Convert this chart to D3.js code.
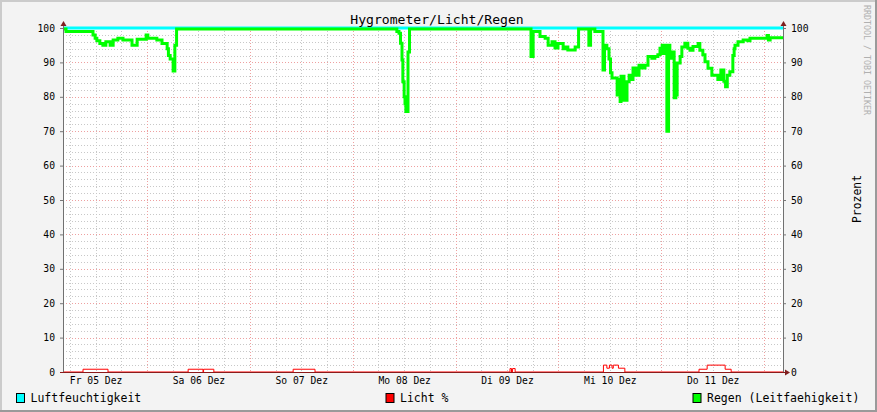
<!DOCTYPE html>
<html>
<head>
<meta charset="utf-8">
<script src="https://cdn.jsdelivr.net/npm/d3@7"></script>
<style>
  html, body { margin: 0; padding: 0; background: #f3f3f3; }
  svg { display: block; font-family: "DejaVu Sans Mono", monospace; }
</style>
</head>
<body>
<svg id="chart" width="877" height="412"></svg>
<script>
// chart window: one week, hours counted from the left edge
const startTime = new Date(2014, 11, 5, 4, 24);
const spanHours = 168;

const title = "Hygrometer/Licht/Regen";
const yLabel = "Prozent";
const watermark = "RRDTOOL / TOBI OETIKER";

const seriesNames = ["Luftfeuchtigkeit", "Licht %", "Regen (Leitfaehigkeit)"];
const seriesColors = ["#00ffff", "#ff0000", "#00ff00"];

const dayLabels = ["Fr 05 Dez", "Sa 06 Dez", "So 07 Dez", "Mo 08 Dez", "Di 09 Dez", "Mi 10 Dez", "Do 11 Dez"];
const dayNoons = [5, 6, 7, 8, 9, 10, 11];
const yTicks = [0, 10, 20, 30, 40, 50, 60, 70, 80, 90, 100];

// Luftfeuchtigkeit
const luftHours = [0, 168];
const luftValues = [100, 100];

// Licht %
const lichtHours = [0, 4.67, 10.5, 29.2, 32.67, 32.8, 35.2, 53.7, 58.8, 104.3, 104.65, 104.9, 105.5,
  126.1, 126.9, 127.5, 128.1, 128.4, 129.6, 131.1, 148.4, 150.3, 154.5, 155.9, 168];
const lichtValues = [0, 0.8, 0, 0.8, 0, 0.8, 0, 0.8, 0, 1.0, 0, 1.0, 0,
  2.0, 1.1, 2.0, 1.1, 2.0, 1.1, 0, 0.8, 2.0, 0.8, 0, 0];

// Regen (Leitfaehigkeit)
const regenHours = [0, 0.7, 7.0, 7.5, 7.9, 8.6, 9.3, 10.0, 11.0, 11.7, 12.8, 14.0, 16.1, 17.3, 19.4, 19.8,
  21.9, 23.1, 24.3, 24.6, 25.0, 25.7, 26.1, 26.5,
  77.9, 78.4, 78.75, 79.1, 79.3, 79.6, 79.8, 80.0, 80.5, 80.85,
  109.2, 109.7, 111.3, 112.5, 113.2, 114.1, 114.8, 115.5, 116.7, 117.4, 117.8, 119.5, 120.3, 122.7, 123.1, 124.1,
  126.0, 126.35, 126.9, 127.4, 127.75, 128.1, 129.3, 129.5, 130.0, 130.2, 130.9, 131.6, 132.1, 132.8, 133.0,
  133.7, 134.4, 135.1, 135.8, 136.5, 137.4, 138.1, 138.8, 139.3, 139.8, 140.0, 140.2, 140.9, 141.3, 141.6,
  142.1, 142.6, 143.0, 143.3, 144.0, 144.4, 145.1, 145.8, 146.3, 147.0, 148.2, 148.6, 149.3, 149.8, 150.5,
  151.4, 152.8, 153.5, 154.2, 154.6, 155.0, 155.6, 156.3, 156.6, 156.8, 157.5, 158.7, 159.8, 160.3, 164.3,
  164.6, 165.0, 168];
const regenValues = [99.7, 99, 98, 97, 96.3, 95.5, 95, 96, 95, 96.5, 97, 96.5, 95, 96.7, 98, 97,
  96.5, 95.5, 94, 92, 91, 87.5, 95, 99.7,
  99, 98.5, 95.6, 90.7, 84.4, 80, 78, 75.7, 93, 99.7,
  91.7, 99, 97.5, 97, 95, 96, 94.2, 95.5, 94, 94.5, 93.6, 94.5, 99.7, 95, 99.7, 99,
  87.8, 95, 94, 91, 87, 85.5, 80.5, 85, 78.6, 86, 79, 84.4, 86.3, 85, 88.4,
  86.3, 89.2, 88.4, 89.2, 91.7, 91.2, 91.7, 92.2, 94.1, 95, 92.6, 95, 70, 95, 91.2,
  93, 79.7, 80.5, 89.8, 91.7, 94.5, 95.6, 94.1, 93.5, 94.6, 95.5, 93.5, 92.2, 90.2, 88.3,
  86.3, 85, 87.8, 84.5, 82.9, 86.3, 87.3, 92, 94, 95, 96, 96.5, 96.3, 97, 97.8,
  96.5, 97.2, 97.2];

const W = 877, H = 412;
const plot = { left: 63, right: 783, top: 28, bottom: 372 };

const toDate = h => new Date(startTime.getTime() + h * 3600 * 1000);
const zip = (hs, vs) => hs.map((h, i) => ({ t: toDate(h), v: vs[i] }));

const x = d3.scaleTime()
  .domain([startTime, toDate(spanHours)])
  .range([plot.left, plot.right]);

const y = d3.scaleLinear()
  .domain([0, 100])
  .range([plot.bottom, plot.top]);

const svg = d3.select("#chart");

// background + frame
svg.append("rect").attr("width", W).attr("height", H).attr("fill", "#f3f3f3");
svg.append("path").attr("d", `M0,${H} V0 H${W}`).attr("stroke", "#cbcbcb").attr("stroke-width", 4).attr("fill", "none");
svg.append("path").attr("d", `M0,${H} H${W} V0`).attr("stroke", "#9a9a9a").attr("stroke-width", 4).attr("fill", "none");

svg.append("rect")
  .attr("x", plot.left).attr("y", plot.top)
  .attr("width", plot.right - plot.left).attr("height", plot.bottom - plot.top)
  .attr("fill", "#ffffff");

// grid
const grid = svg.append("g").attr("shape-rendering", "crispEdges");
const minorY = d3.range(0, 101, 2).filter(v => v % 10 !== 0);
const majorY = yTicks.filter(v => v > 0);
const sixHours = d3.timeHour.every(6).range(x.domain()[0], x.domain()[1]);
const minorX = sixHours.filter(d => d.getHours() !== 0);
const majorX = sixHours.filter(d => d.getHours() === 0);

grid.selectAll(".gy").data(minorY).join("line")
  .attr("x1", plot.left).attr("x2", plot.right)
  .attr("y1", d => Math.round(y(d)) + 0.5).attr("y2", d => Math.round(y(d)) + 0.5)
  .attr("stroke", "#c8c8c8").attr("stroke-dasharray", "1,2");
grid.selectAll(".gx").data(minorX).join("line")
  .attr("y1", plot.top).attr("y2", plot.bottom)
  .attr("x1", d => Math.round(x(d)) + 0.5).attr("x2", d => Math.round(x(d)) + 0.5)
  .attr("stroke", "#c8c8c8").attr("stroke-dasharray", "1,2");
grid.selectAll(".my").data(majorY).join("line")
  .attr("x1", plot.left).attr("x2", plot.right)
  .attr("y1", d => Math.round(y(d)) + 0.5).attr("y2", d => Math.round(y(d)) + 0.5)
  .attr("stroke", "#eea0a0").attr("stroke-dasharray", "1,2");
grid.selectAll(".mx").data(majorX).join("line")
  .attr("y1", plot.top).attr("y2", plot.bottom)
  .attr("x1", d => Math.round(x(d)) + 0.5).attr("x2", d => Math.round(x(d)) + 0.5)
  .attr("stroke", "#eea0a0").attr("stroke-dasharray", "1,2");

// series
const line = d3.line().x(d => x(d.t)).y(d => y(d.v)).curve(d3.curveStepAfter);

svg.append("path").datum(zip(luftHours, luftValues))
  .attr("d", line).attr("fill", "none")
  .attr("stroke", seriesColors[0]).attr("stroke-width", 3);

svg.append("path").datum(zip(lichtHours, lichtValues))
  .attr("d", line).attr("fill", "none")
  .attr("stroke", seriesColors[1]).attr("stroke-width", 1);

svg.append("path").datum(zip(regenHours, regenValues))
  .attr("d", line).attr("fill", "none")
  .attr("stroke", seriesColors[2]).attr("stroke-width", 3)
  .attr("stroke-linejoin", "miter");

// axes
const yAxisL = svg.append("g")
  .attr("transform", `translate(${plot.left},0)`)
  .call(d3.axisLeft(y).tickValues(yTicks).tickSize(3).tickPadding(5))
  .call(g => g.select(".domain").remove());
const yAxisR = svg.append("g")
  .attr("transform", `translate(${plot.right},0)`)
  .call(d3.axisRight(y).tickValues(yTicks).tickSize(3).tickPadding(5))
  .call(g => g.select(".domain").remove());
[yAxisL, yAxisR].forEach(g => {
  g.selectAll("line").attr("stroke", "#777");
  g.selectAll("text").attr("font-family", "DejaVu Sans Mono").attr("font-size", 9.7).attr("fill", "#000");
});

const noonTicks = dayNoons.map(d => new Date(2014, 11, d, 12, 0));
svg.append("g")
  .attr("transform", `translate(0,${plot.bottom})`)
  .call(d3.axisBottom(x).tickValues(noonTicks).tickSize(0).tickPadding(5.5)
    .tickFormat((d, i) => dayLabels[i]))
  .call(g => g.select(".domain").remove())
  .call(g => g.selectAll("text").attr("font-family", "DejaVu Sans Mono").attr("font-size", 9.7).attr("fill", "#000"));

// axis lines + arrows
svg.append("line").attr("x1", plot.left + 0.5).attr("x2", plot.left + 0.5)
  .attr("y1", plot.bottom).attr("y2", plot.top - 4).attr("stroke", "#707070");
svg.append("line").attr("x1", plot.right + 0.5).attr("x2", plot.right + 0.5)
  .attr("y1", plot.bottom).attr("y2", plot.top - 4).attr("stroke", "#707070");
svg.append("line").attr("x1", plot.left - 3).attr("x2", plot.right + 4)
  .attr("y1", plot.bottom + 0.5).attr("y2", plot.bottom + 0.5).attr("stroke", "#8b1a1a");

const arrow = "#7f1f1f";
[plot.left, plot.right].forEach(ax => {
  svg.append("path").attr("d", `M${ax - 2.5},${plot.top - 2} L${ax + 0.5},${plot.top - 7} L${ax + 3.5},${plot.top - 2} Z`).attr("fill", arrow);
});
svg.append("path").attr("d", `M${plot.right + 2},${plot.bottom - 2.5} L${plot.right + 7},${plot.bottom + 0.5} L${plot.right + 2},${plot.bottom + 3.5} Z`).attr("fill", arrow);

// texts
svg.append("text").attr("x", 437).attr("y", 24)
  .attr("text-anchor", "middle").attr("font-size", 13.1).attr("fill", "#000")
  .text(title);

svg.append("text")
  .attr("transform", "translate(861,199) rotate(-90)")
  .attr("text-anchor", "middle").attr("font-size", 11.4).attr("fill", "#000")
  .text(yLabel);

svg.append("text")
  .attr("transform", "translate(864,5) rotate(90)")
  .attr("text-anchor", "start").attr("font-size", 8.3).attr("fill", "#b0b0b0")
  .text(watermark);

// legend
const legendX = [16, 385.5, 692.5];
const legend = svg.append("g");
seriesNames.forEach((name, i) => {
  legend.append("rect")
    .attr("x", legendX[i] + 0.5).attr("y", 393.5).attr("width", 8).attr("height", 9)
    .attr("fill", seriesColors[i]).attr("stroke", "#000").attr("stroke-width", 1);
  legend.append("text")
    .attr("x", legendX[i] + 14.5).attr("y", 402)
    .attr("font-size", 11.5).attr("fill", "#000")
    .text(name);
});
</script>
</body>
</html>
